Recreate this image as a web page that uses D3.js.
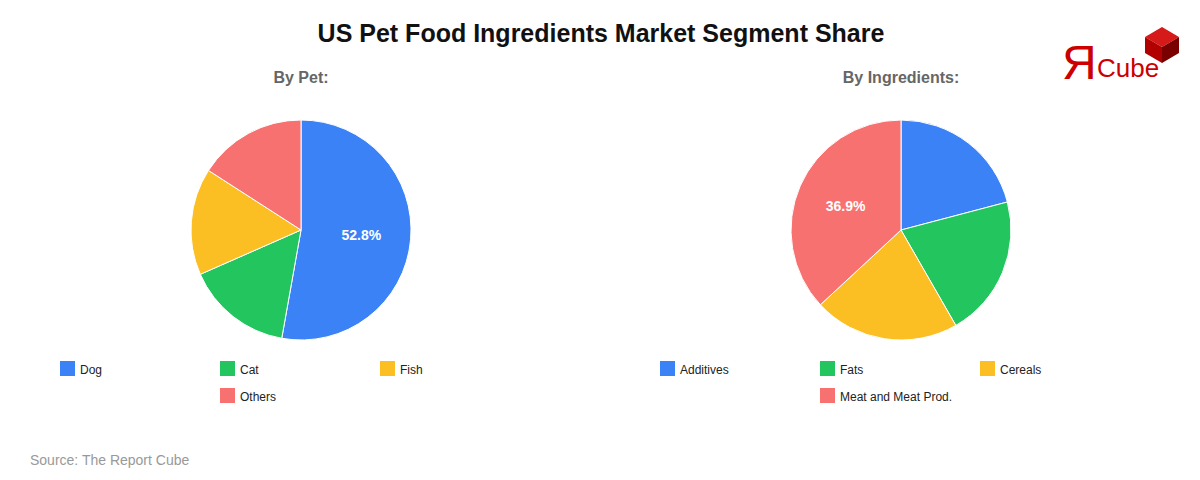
<!DOCTYPE html>
<html>
<head>
<meta charset="utf-8">
<script src="https://cdn.jsdelivr.net/npm/d3@7"></script>
<style>
  body { margin: 0; background: #fff; font-family: "Liberation Sans", Arial, sans-serif; }
</style>
</head>
<body>
<div id="chart"></div>
<script>
const petCategories = ['Dog', 'Cat', 'Fish', 'Others'];
const petValues = [52.8, 15.6, 15.7, 15.9];

const ingredientCategories = ['Additives', 'Fats', 'Cereals', 'Meat and Meat Prod.'];
const ingredientValues = [20.9, 20.8, 21.4, 36.9];

const colors = ['#3b82f6', '#22c55e', '#fbbf24', '#f87171'];

const width = 1200;
const height = 480;

const svg = d3.select('#chart').append('svg')
    .attr('width', width)
    .attr('height', height);

svg.append('text')
    .attr('x', 601)
    .attr('y', 42)
    .attr('text-anchor', 'middle')
    .style('font-size', '25px')
    .style('font-weight', 'bold')
    .style('fill', '#111')
    .text('US Pet Food Ingredients Market Segment Share');

// logo
const logo = svg.append('g').attr('transform', 'translate(1062,0)');
logo.append('text')
    .attr('x', 0).attr('y', 79)
    .style('font-size', '48px')
    .style('fill', '#c00')
    .text('Я');
logo.append('text')
    .attr('x', 35).attr('y', 77)
    .style('font-size', '26px')
    .style('fill', '#c00')
    .text('Cube');
// cube faces
logo.append('polygon').attr('points', '83,37 100,27 117,37 100,47').attr('fill', '#d61a1a');
logo.append('polygon').attr('points', '83,37 100,47 100,63 83,53').attr('fill', '#b00000');
logo.append('polygon').attr('points', '100,47 117,37 117,53 100,63').attr('fill', '#7a0000');

function drawPie(cx, subtitle, categories, values) {
    const radius = 110;
    const cy = 230;

    svg.append('text')
        .attr('x', cx)
        .attr('y', 83)
        .attr('text-anchor', 'middle')
        .style('font-size', '16px')
        .style('font-weight', 'bold')
        .style('fill', '#666')
        .text(subtitle);

    const data = categories.map((c, i) => ({ cat: c, value: values[i], color: colors[i] }));
    const total = d3.sum(values);

    const pie = d3.pie().sort(null).value(d => d.value);
    const arc = d3.arc().innerRadius(0).outerRadius(radius);
    const labelArc = d3.arc().innerRadius(radius * 0.55).outerRadius(radius * 0.55);

    const g = svg.append('g').attr('transform', `translate(${cx},${cy})`);

    g.selectAll('path')
        .data(pie(data))
        .join('path')
        .attr('d', arc)
        .attr('fill', d => d.data.color)
        .attr('stroke', '#fff')
        .attr('stroke-width', 1);

    g.selectAll('text')
        .data(pie(data).filter(d => d.data.value / total > 0.3))
        .join('text')
        .attr('transform', d => `translate(${labelArc.centroid(d)})`)
        .attr('text-anchor', 'middle')
        .attr('dy', '0.35em')
        .style('font-size', '14px')
        .style('font-weight', 'bold')
        .style('fill', '#fff')
        .text(d => d.data.value.toFixed(1) + '%');

    // legend, 3 columns
    const legendX = cx - 241;
    const legend = svg.append('g');
    const items = legend.selectAll('g')
        .data(data)
        .join('g')
        .attr('transform', (d, i) => `translate(${legendX + (i === 3 ? 160 : i * 160)},${i < 3 ? 361 : 388})`);
    items.append('rect')
        .attr('width', 15).attr('height', 15)
        .attr('fill', d => d.color);
    items.append('text')
        .attr('x', 20).attr('y', 12.5)
        .style('font-size', '12px')
        .style('fill', '#222')
        .text(d => d.cat);
}

drawPie(301, 'By Pet:', petCategories, petValues);
drawPie(901, 'By Ingredients:', ingredientCategories, ingredientValues);

svg.append('text')
    .attr('x', 30)
    .attr('y', 465)
    .style('font-size', '14px')
    .style('fill', '#999')
    .text('Source: The Report Cube');
</script>
</body>
</html>
